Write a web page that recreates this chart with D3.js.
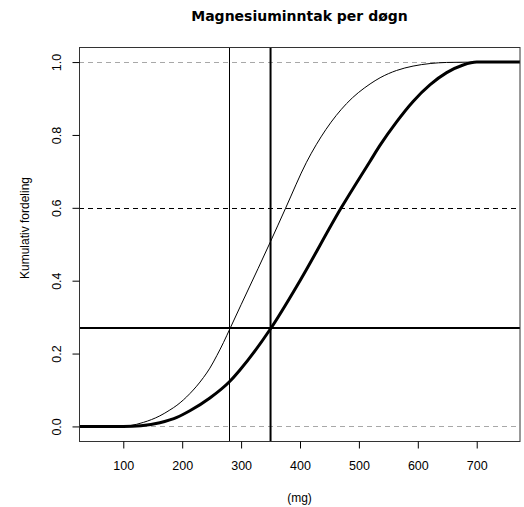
<!DOCTYPE html>
<html>
<head>
<meta charset="utf-8">
<script src="https://cdn.jsdelivr.net/npm/d3@7.9.0/dist/d3.min.js"></script>
<style>
  html, body { margin: 0; padding: 0; background: #fff; }
  text { font-family: "Liberation Sans", Arial, sans-serif; fill: #000; }
</style>
</head>
<body>
<div id="chart"></div>
<script>
// cumulative curve, thin line (mg -> share)
const thinDose = [0, 100, 111, 134, 162, 179, 191, 213, 236, 247, 259, 270, 281, 300, 329, 349, 375, 411, 444, 479, 519, 536, 564, 592, 621, 649, 700, 800];
const thinCum = [0, 0, 0.002, 0.011, 0.029, 0.045, 0.058, 0.09, 0.134, 0.16, 0.195, 0.23, 0.268, 0.334, 0.434, 0.504, 0.597, 0.725, 0.815, 0.886, 0.94, 0.957, 0.977, 0.989, 0.996, 0.999, 1, 1];

// cumulative curve, thick line
const thickDose = [0, 100, 130, 162, 179, 191, 213, 247, 281, 298, 350, 400, 470, 519, 536, 564, 592, 621, 649, 677, 700, 800];
const thickCum = [0, 0, 0.002, 0.01, 0.018, 0.025, 0.043, 0.078, 0.124, 0.155, 0.268, 0.4, 0.6, 0.728, 0.772, 0.836, 0.892, 0.938, 0.971, 0.992, 1, 1];

const xTicks = [100, 200, 300, 400, 500, 600, 700];
const yTicks = [0, 0.2, 0.4, 0.6, 0.8, 1.0];
const greyLevels = [0, 1];
const dashedLevel = 0.6;
const markLevel = 0.27;
const thinMarkDose = 280;
const thickMarkDose = 350;

const title = 'Magnesiuminntak per døgn';
const xTitle = '(mg)';
const yTitle = 'Kumulativ fordeling';

const width = 524;
const height = 507;
const box = { left: 79, right: 520, top: 47.5, bottom: 441 };

const x = d3.scaleLinear().domain([24.8, 773.5]).range([box.left, box.right]);
const y = d3.scaleLinear().domain([-0.04, 1.04]).range([box.bottom, box.top]);

const svg = d3.select('#chart').append('svg')
  .attr('width', width)
  .attr('height', height);

svg.append('defs').append('clipPath').attr('id', 'plot')
  .append('rect')
  .attr('x', box.left).attr('y', box.top)
  .attr('width', box.right - box.left).attr('height', box.bottom - box.top);

const plot = svg.append('g').attr('clip-path', 'url(#plot)');

// grey reference lines at 0 and 1
plot.selectAll('line.grey')
  .data(greyLevels)
  .join('line')
  .attr('class', 'grey')
  .attr('x1', box.left).attr('x2', box.right)
  .attr('y1', (d) => Math.round(y(d)) + 0.5).attr('y2', (d) => Math.round(y(d)) + 0.5)
  .attr('stroke', '#a8a8a8')
  .attr('stroke-dasharray', '5,4');

plot.append('line')
  .attr('x1', box.left).attr('x2', box.right)
  .attr('y1', Math.round(y(dashedLevel)) + 0.5).attr('y2', Math.round(y(dashedLevel)) + 0.5)
  .attr('stroke', '#000')
  .attr('stroke-dasharray', '5,4');

plot.append('line')
  .attr('x1', box.left).attr('x2', box.right)
  .attr('y1', y(markLevel)).attr('y2', y(markLevel))
  .attr('stroke', '#000')
  .attr('stroke-width', 2);

plot.append('line')
  .attr('x1', Math.round(x(thinMarkDose)) + 0.5).attr('x2', Math.round(x(thinMarkDose)) + 0.5)
  .attr('y1', box.top).attr('y2', box.bottom)
  .attr('stroke', '#000');

plot.append('line')
  .attr('x1', x(thickMarkDose)).attr('x2', x(thickMarkDose))
  .attr('y1', box.top).attr('y2', box.bottom)
  .attr('stroke', '#000')
  .attr('stroke-width', 2);

const line = d3.line()
  .x((d) => x(d[0]))
  .y((d) => y(d[1]))
  .curve(d3.curveMonotoneX);

plot.append('path')
  .datum(d3.zip(thinDose, thinCum))
  .attr('d', line)
  .attr('fill', 'none')
  .attr('stroke', '#000')
  .attr('stroke-width', 1);

plot.append('path')
  .datum(d3.zip(thickDose, thickCum))
  .attr('d', line)
  .attr('fill', 'none')
  .attr('stroke', '#000')
  .attr('stroke-width', 3);

// box
svg.append('rect')
  .attr('x', box.left + 0.5).attr('y', box.top)
  .attr('width', box.right - box.left - 0.5).attr('height', box.bottom - box.top + 0.5)
  .attr('fill', 'none')
  .attr('stroke', '#333');

// axes
const xAxis = svg.append('g')
  .attr('transform', `translate(0, ${box.bottom + 0.5})`)
  .call(d3.axisBottom(x).tickValues(xTicks).tickSize(7).tickPadding(13).tickFormat(d3.format('d')));
xAxis.select('.domain').remove();
xAxis.selectAll('text').attr('font-size', 12.5).attr('fill', '#000').attr('font-family', null);
xAxis.selectAll('line').attr('stroke', '#000');

const yAxis = svg.append('g')
  .attr('transform', `translate(${box.left + 0.5}, 0)`)
  .call(d3.axisLeft(y).tickValues(yTicks).tickSize(7).tickFormat(d3.format('.1f')));
yAxis.select('.domain').remove();
yAxis.selectAll('line').attr('stroke', '#000');
yAxis.selectAll('text')
  .attr('font-size', 12.5)
  .attr('fill', '#000')
  .attr('font-family', null)
  .attr('x', null).attr('dy', null)
  .attr('text-anchor', 'middle')
  .attr('transform', 'translate(-23, 0) rotate(-90)')
  .attr('dy', '0.35em');

svg.append('text')
  .attr('x', (box.left + box.right) / 2)
  .attr('y', 21)
  .attr('text-anchor', 'middle')
  .attr('font-size', 14)
  .attr('font-weight', 'bold')
  .style('font-family', '"DejaVu Sans", Verdana, sans-serif')
  .text(title);

svg.append('text')
  .attr('x', (box.left + box.right) / 2)
  .attr('y', 502)
  .attr('text-anchor', 'middle')
  .attr('font-size', 12)
  .text(xTitle);

svg.append('text')
  .attr('transform', `translate(29, 228) rotate(-90)`)
  .attr('text-anchor', 'middle')
  .attr('font-size', 12)
  .text(yTitle);
</script>
</body>
</html>
